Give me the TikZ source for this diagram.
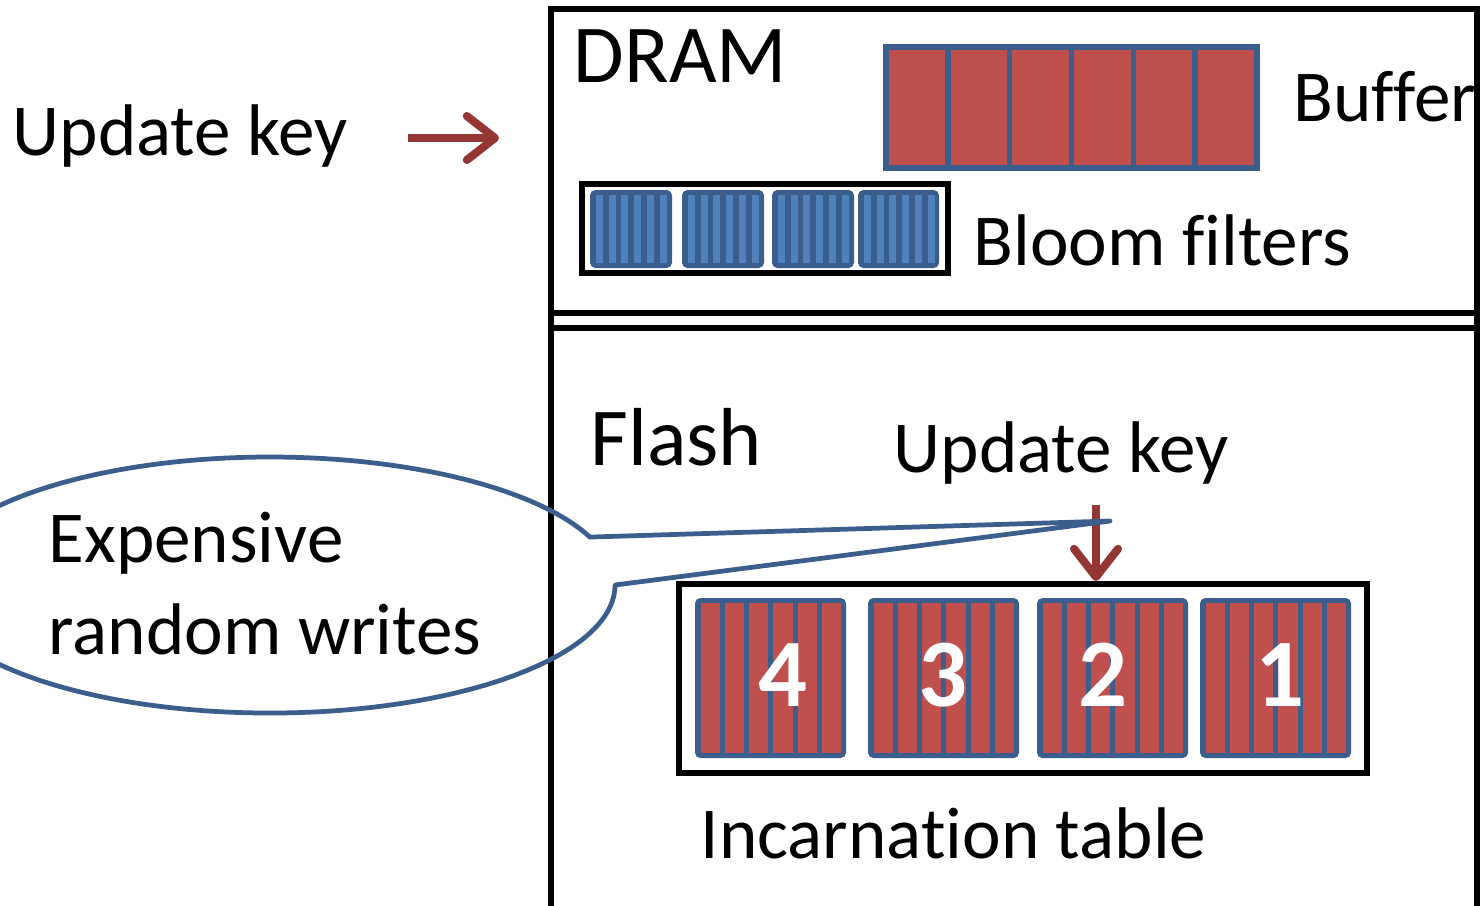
\documentclass[tikz,border=0pt]{standalone}
\usepackage{fontspec}
\setmainfont{Carlito}[Ligatures=NoCommon]
\usetikzlibrary{arrows.meta}
\definecolor{fillred}{HTML}{C0504D}
\definecolor{edgeblue}{HTML}{3B5E8C}
\definecolor{lightblue}{HTML}{4F81BD}
\definecolor{arrowred}{HTML}{943634}
\begin{document}
\begin{tikzpicture}[x=0.01cm,y=-0.01cm,
  lbl/.style={inner sep=0pt, anchor=base west, font=\fontsize{20.8}{25}\selectfont},
  biglbl/.style={inner sep=0pt, anchor=base west, font=\fontsize{23.4}{28}\selectfont},
  digit/.style={inner sep=0pt, text=white, font=\fontsize{27.5}{32}\selectfont\bfseries},
  boxline/.style={line width=1.6pt, draw=black},
  keyarrow/.style={draw=arrowred, line width=2.3pt, -{Straight Barb[length=8pt,width=12.5pt,round]}},
  callout/.style={draw=edgeblue, line width=1.35pt, line join=round},
]
\useasboundingbox (0,0) rectangle (1480,905);

% memory boxes
\draw[boxline] (551,9) rectangle (1477,915);
\draw[boxline] (551,313) -- (1477,313);
\draw[boxline] (551,328) -- (1477,328);

% buffer
\draw[edgeblue, line width=1.6pt, fill=fillred] (886,47) rectangle (1257,168);
\foreach \k in {1,...,5}
  \draw[edgeblue, line width=1.6pt] ({886+\k*61.83},47) -- ++(0,121);

% bloom filters
\draw[boxline] (582,184) rectangle (948,273);
\foreach \x/\w in {590/82,682/82,772/82,858/81} {
  \fill[edgeblue, rounded corners=1.5pt] (\x,190) rectangle ++(\w,78);
  \foreach \k in {0,...,5}
    \fill[lightblue] ({\x+6+\k*12.7},195) rectangle ++(7,68);
}

% incarnation table
\draw[boxline] (679,584) rectangle (1367,773);
\foreach \x in {695,868,1037,1200} {
  \fill[edgeblue, rounded corners=1.5pt] (\x,598) rectangle ++(151,160);
  \foreach \k in {0,...,5}
    \fill[fillred] ({\x+5.7+\k*24.2},603) rectangle ++(19.3,150);
}
\node[digit] (d4) at (783,675) {4};
\node[digit] (d3) at (943,675) {3};
\node[digit] (d2) at (1103,675) {2};
\node[digit] (d1) at (1280,675) {1};

% labels
\node[lbl] (updL) at (12,155) {Update key};
\node[biglbl] (dram) at (573,82) {DRAM};
\node[lbl] (buf) at (1293,121) {Buffer};
\node[lbl] (bloom) at (973,265) {Bloom filters};
\node[biglbl] (flash) at (590,465) {Flash};
\node[lbl] (updF) at (893,472) {Update key};
\node[lbl] (inc) at (700,858) {Incarnation table};
\node[lbl, align=left, anchor=base west] (exp) at (48,654)
  {Expensive\\[1pt]random writes};

% arrows
\coordinate (la1) at (408,138);
\coordinate (la2) at (499,138);
\draw[keyarrow] (la1) -- (la2);
\coordinate (fa1) at (1096,505);
\coordinate (fa2) at (1096,581);
\draw[keyarrow] (fa1) -- (fa2);

% callout
\coordinate (tip) at (1110,521);
\draw[callout] (615,585) arc[start angle=0, end angle=338, x radius=345, y radius=128] -- (tip) -- cycle;
\end{tikzpicture}
\end{document}
